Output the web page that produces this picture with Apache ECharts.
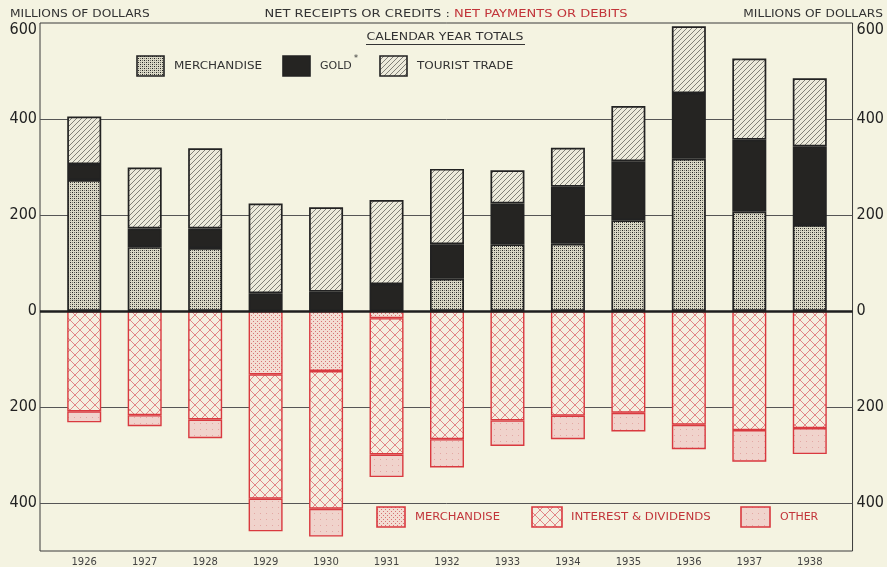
<!DOCTYPE html>
<html><head><meta charset="utf-8">
<script src="https://cdn.jsdelivr.net/npm/echarts@6/dist/echarts.min.js"></script>
<style>html,body{margin:0;padding:0;background:#f4f3e1}#c{width:887px;height:567px}</style>
</head><body><div id="c"></div>
<script>
// ---- data (millions of dollars) ----
const years = ['1926','1927','1928','1929','1930','1931','1932','1933','1934','1935','1936','1937','1938'];
// net receipts or credits
const creditMerch   = [273,133,131,null,null,null,67,139,140,189,317,207,179];
const creditGold    = [33,39,41,37,40,56,72,85,119,123,137,150,164];
const creditTourist = [99,127,167,187,176,175,157,69,81,115,139,169,142];
// net payments or debits
const debitMerch    = [null,null,null,132,125,15,null,null,null,null,null,null,null];
const debitInterest = [209,217,226,259,287,284,267,228,218,212,237,248,244];
const debitOther    = [23,23,39,68,58,47,59,53,49,39,51,66,54];
// axis
const yMin = -500, yMax = 600, yStep = 100;
const gridLines = [400,200,-200,-400];

// ---- patterns ----
function pat(size, bg, draw){
  const c = document.createElement('canvas'); c.width = c.height = size;
  const g = c.getContext('2d'); g.fillStyle = bg; g.fillRect(0,0,size,size);
  draw(g,size); return {image:c, repeat:'repeat'};
}
const P = {
  cMerch: pat(4,'#dad8c6',(g)=>{g.fillStyle='#262626';g.fillRect(0,0,1,1);g.fillRect(2,2,1,1);g.fillStyle='#76756b';g.fillRect(2,0,1,1);g.fillRect(0,2,1,1);}),
  cGold: '#252422',
  cTour: pat(5,'#eceadb',(g,s)=>{g.strokeStyle='#66655e';g.lineWidth=0.8;g.beginPath();g.moveTo(-1,s+1);g.lineTo(s+1,-1);g.moveTo(-1,1);g.lineTo(1,-1);g.moveTo(s-1,s+1);g.lineTo(s+1,s-1);g.stroke();}),
  dMerch: pat(4,'#f3ddd3',(g)=>{g.fillStyle='#d77274';g.fillRect(1,1,1,1);g.fillRect(3,3,1,1);}),
  dInt: pat(10,'#f4efe0',(g,s)=>{g.strokeStyle='#e28586';g.lineWidth=1;g.beginPath();g.moveTo(0,0);g.lineTo(s,s);g.moveTo(s,0);g.lineTo(0,s);g.stroke();}),
  dOther: pat(6,'#f0d3cc',(g)=>{g.fillStyle='#e3a8a4';g.fillRect(2,3,1,1);})
};
const BLK = '#222', RED = '#d9393f';
const neg = a => a.map(v => v == null ? null : -v);
const FONT = 'DejaVu Sans';

function bar(name, data, fill, border){
  return {name, type:'bar', stack:'all', xAxisIndex:1, yAxisIndex:2, data, barWidth:34,
    itemStyle:{color:fill, borderColor:border, borderWidth: border===BLK?1.7:1.4}, z:3};
}

function txt(x, y, text, color, sx, align){
  return {type:'text', x, y, scaleX:sx || 1, z:10,
    style:{text, fill:color, font:'11px '+FONT, align:align||'left', verticalAlign:'middle'}};
}
function legendItem(x, y, w, h, fill, stroke, label, color, sx, gap){
  return [
    {type:'rect', shape:{x, y, width:w, height:h}, style:{fill, stroke, lineWidth:1.6}, z:10},
    txt(x+w+(gap||10), y+h/2, label, color, sx)
  ];
}

const chart = echarts.init(document.getElementById('c'), null, {renderer:'canvas'});
const yAxisBase = {
  type:'value', gridIndex:0, min:yMin, max:yMax, interval:yStep,
  axisLine:{show:false}, axisTick:{show:false}, splitLine:{show:false},
  axisLabel:{fontFamily:'DejaVu Sans Condensed', fontSize:16, color:'#222',
    formatter: v => (v % 200 === 0 && v > yMin) ? (v === yMax ? '{t|' + v + '}' : String(Math.abs(v))) : '',
    rich:{t:{fontFamily:'DejaVu Sans Condensed', fontSize:16, color:'#222', padding:[14,0,0,0]}}}
};
chart.setOption({
  animation:false,
  backgroundColor:'#f4f3e1',
  grid:[
    {left:40, right:34, top:23, bottom:16, show:true, borderColor:'#3a3a3a', borderWidth:1, backgroundColor:'transparent'},
    {left:54, right:47, top:23, bottom:16}
  ],
  xAxis:[
    {type:'value', gridIndex:0, min:0, max:1, show:false},
    {type:'category', gridIndex:1, data:years, axisLine:{show:false}, axisTick:{show:false},
     axisLabel:{fontFamily:FONT, fontSize:10, color:'#444', margin:6}}
  ],
  yAxis:[
    Object.assign({}, yAxisBase, {position:'left', axisLabel:Object.assign({}, yAxisBase.axisLabel, {margin:3})}),
    Object.assign({}, yAxisBase, {position:'right', axisLabel:Object.assign({}, yAxisBase.axisLabel, {margin:4})}),
    {type:'value', gridIndex:1, min:yMin, max:yMax, interval:yStep, show:false}
  ],
  series:[
    {type:'line', xAxisIndex:0, yAxisIndex:0, data:[], z:1,
     markLine:{silent:true, z:1, symbol:'none', label:{show:false}, lineStyle:{color:'#555', width:1, type:'solid'},
       data: gridLines.map(v => ({yAxis:v}))}},
    bar('Merchandise', creditMerch, P.cMerch, BLK),
    bar('Gold', creditGold, P.cGold, BLK),
    bar('Tourist trade', creditTourist, P.cTour, BLK),
    bar('Merchandise (debit)', neg(debitMerch), P.dMerch, RED),
    bar('Interest & dividends', neg(debitInterest), P.dInt, RED),
    bar('Other', neg(debitOther), P.dOther, RED),
    {type:'line', xAxisIndex:0, yAxisIndex:0, data:[], z:20,
     markLine:{silent:true, symbol:'none', label:{show:false}, z:20, lineStyle:{color:'#1e1e1e', width:2.6, type:'solid'},
       data:[{yAxis:0}]}}
  ],
  graphic:[
    txt(10, 14, 'MILLIONS OF DOLLARS', '#333', 1.11),
    txt(883, 14, 'MILLIONS OF DOLLARS', '#333', 1.11, 'right'),
    {type:'text', x:446, y:14, scaleX:1.186, z:10, style:{text:'{b|NET RECEIPTS OR CREDITS : }{r|NET PAYMENTS OR DEBITS}', align:'center', verticalAlign:'middle',
      rich:{b:{fill:'#333', font:'11px '+FONT}, r:{fill:'#c2353a', font:'11px '+FONT}}}},
    txt(445, 37, 'CALENDAR YEAR TOTALS', '#333', 1.14, 'center'),
    {type:'line', shape:{x1:366, y1:44.5, x2:525, y2:44.5}, style:{stroke:'#333', lineWidth:1}},
    ...legendItem(137, 56, 27, 20, P.cMerch, BLK, 'MERCHANDISE', '#333', 1.09),
    ...legendItem(283, 56, 27, 20, P.cGold, BLK, 'GOLD', '#333', 1.0),
    {type:'text', x:354, y:55, style:{text:'*', fill:'#333', font:'8px '+FONT}},
    ...legendItem(380, 56, 27, 20, P.cTour, BLK, 'TOURIST TRADE', '#333', 1.09),
    ...legendItem(377, 507, 28, 20, P.dMerch, RED, 'MERCHANDISE', '#c2353a', 1.05),
    ...legendItem(532, 507, 30, 20, P.dInt, RED, 'INTEREST & DIVIDENDS', '#c2353a', 1.07, 9),
    ...legendItem(741, 507, 29, 20, P.dOther, RED, 'OTHER', '#c2353a', 1.0)
  ]
});
</script></body></html>
